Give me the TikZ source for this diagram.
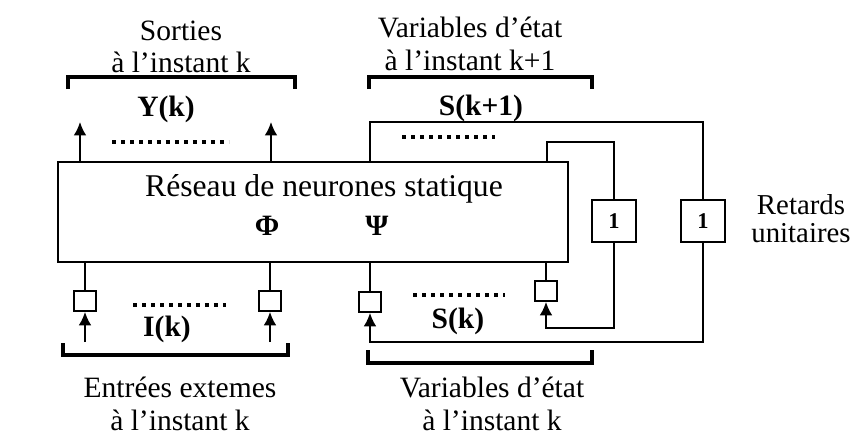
\documentclass[tikz,border=0pt]{standalone}
\usepackage{fontspec}
\setmainfont{Liberation Serif}
\usetikzlibrary{arrows.meta}

\begin{document}
\begin{tikzpicture}[x=0.025cm, y=-0.025cm, line width=1.3pt, >={Latex[length=9.5pt,width=9pt]},
	font=\fontsize{21}{23}\selectfont,
	bloc/.style={draw, minimum width=12.75cm, minimum height=2.5cm, inner sep=0pt},
	retard/.style={draw, minimum width=1.1cm, minimum height=1.03cm, inner sep=0pt, font=\fontsize{16}{16}\selectfont\bfseries},
	carre/.style={draw, minimum width=0.57cm, minimum height=0.5cm, inner sep=0pt},
	accol/.style={line width=2.8pt},
	pointill/.style={line width=2.6pt, dash pattern=on 2.6pt off 3.8pt},
	lab/.style={font=\fontsize{21}{21}\selectfont\bfseries}]
	\useasboundingbox (0,0) rectangle (856,441);
	% reseau statique et retards
	\node[bloc] (net) at (313,212) {};
	\node[font=\fontsize{22.5}{23}\selectfont] (titre) at (324,189) {Réseau de neurones statique};
	\node[lab] (phi) at (267,226) {Φ};
	\node[lab] (psi) at (377,226) {Ψ};
	\node[retard] (d1) at (614,221) {1};
	\node[retard] (d2) at (703,221) {1};
	\node[align=center, font=\fontsize{20.5}{20}\selectfont] (ret) at (801,219) {Retards\\unitaires};
	% entrees
	\node[carre] (e1) at (85,301) {};
	\node[carre] (e2) at (270,301) {};
	\node[carre] (s1) at (370,302) {};
	\node[carre] (s2) at (546,291) {};
	\coordinate (y1) at (80,122);
	\coordinate (y2) at (271,122);
	\coordinate (ko) at (370,122);
	\coordinate (ki) at (547,142);
	\coordinate (in) at (0,342);
	\coordinate (in2) at (0,328);
	\draw[->] (y1 |- net.north) -- (y1);
	\draw[->] (y2 |- net.north) -- (y2);
	\foreach \c in {e1,e2,s1,s2} \draw (net.south -| \c.north) -- (\c.north);
	\draw[->] (e1.south |- in) -- (e1.south);
	\draw[->] (e2.south |- in) -- (e2.south);
	% bouclage
	\draw (ko |- net.north) -- (ko) -| (d2.north);
	\draw (ki |- net.north) -- (ki) -| (d1.north);
	\draw[->] (d2.south) -- (d2.south |- in) -| (s1.south);
	\draw[->] (d1.south) -- (d1.south |- in2) -| (s2.south);
	% pointilles
	\draw[pointill] (112,142) -- (229,142);
	\draw[pointill] (402,137) -- (495,137);
	\draw[pointill] (133,305) -- (226,305);
	\draw[pointill] (413,295) -- (505,295);
	\node[lab] (yk) at (166,109) {Y(k)};
	\node[lab] (sk1) at (481,108) {S(k+1)};
	\node[lab] (ik) at (167,329) {I(k)};
	\node[lab] (sk) at (458,321) {S(k)};
	% accolades
	\draw[accol] (68,89) -- (68,77) -- (295,77) -- (295,89);
	\draw[accol] (369,89) -- (369,77) -- (592,77) -- (592,89);
	\draw[accol] (63,343) -- (63,355) -- (288,355) -- (288,343);
	\draw[accol] (368,350) -- (368,363) -- (592,363) -- (592,350);
	\node[align=center] (sorties) at (181,47) {Sorties\\à l'instant k};
	\node[align=center] (etatp) at (470,44) {Variables d'état\\à l'instant k+1};
	\node[align=center] (entrees) at (180,404) {Entrées extemes\\à l'instant k};
	\node[align=center] (etat) at (492,404) {Variables d'état\\à l'instant k};
\end{tikzpicture}
\end{document}
